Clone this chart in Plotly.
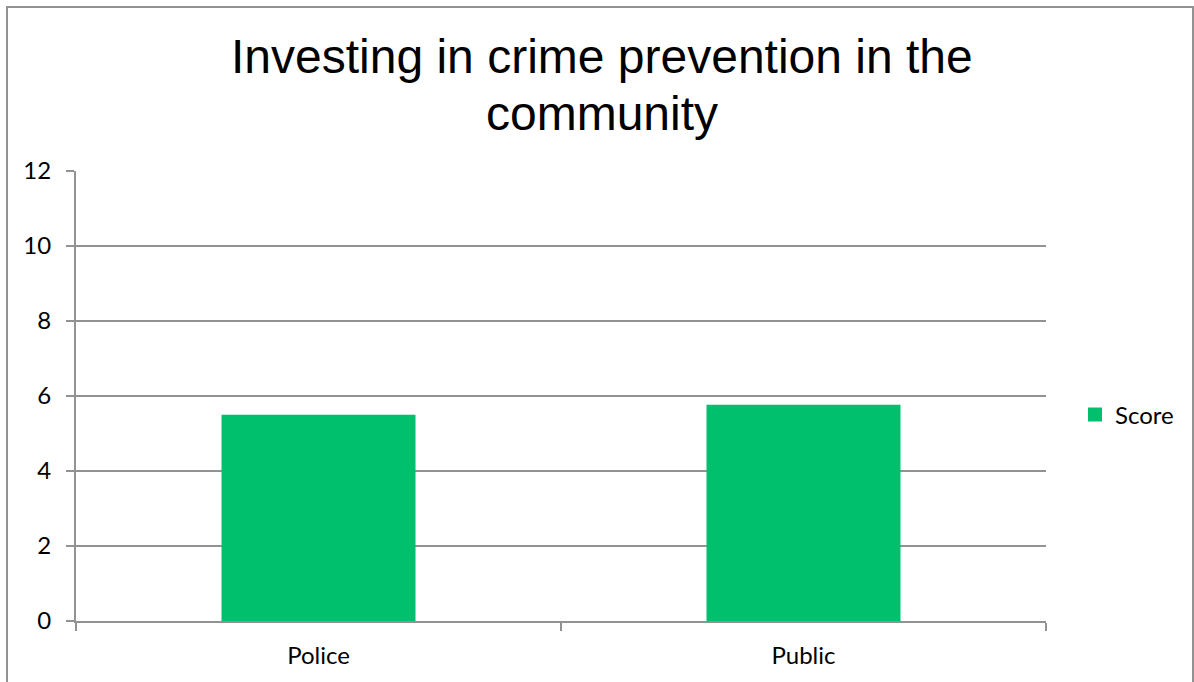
import plotly.graph_objects as go

categories = ["Police", "Public"]
scores = [5.5, 5.77]
y_ticks = [0, 2, 4, 6, 8, 10, 12]
title_lines = ["Investing in crime prevention in the", "community"]
series_name = "Score"

W, H = 1194, 682
L, R, T, B = 76, 1046, 171, 621
pw, ph = R - L, B - T
GREEN = "rgb(0,192,110)"
GRAY = "#929292"

def px_x(x):
    return (x - L) / pw

def px_y(y):
    return (B - y) / ph

fig = go.Figure()
fig.add_trace(go.Bar(
    x=categories, y=scores, name=series_name,
    marker=dict(color=GREEN, line=dict(width=0)),
    showlegend=False,
))
# legend entry with a larger square swatch
fig.add_trace(go.Scatter(
    x=[None], y=[None], mode="markers", name=series_name,
    marker=dict(symbol="square", size=14, color=GREEN),
    showlegend=True,
))

annotations = []
for line, baseline in zip(title_lines, [73, 129]):
    annotations.append(dict(
        text=line, xref="paper", yref="paper", x=px_x(602), y=px_y(baseline - 16),
        xanchor="center", yanchor="middle", showarrow=False,
        font=dict(family="Liberation Sans, Arial", size=48, color="black"),
    ))

fig.update_layout(
    width=W, height=H,
    margin=dict(l=L, r=W - R, t=T, b=H - B, autoexpand=False),
    paper_bgcolor="white", plot_bgcolor="white",
    bargap=0.6,
    annotations=annotations,
    font=dict(family="Lato", size=24, color="black"),
    showlegend=True,
    legend=dict(x=px_x(1075), y=px_y(415), xanchor="left", yanchor="middle",
                font=dict(family="Lato", size=24, color="black"),
                bgcolor="rgba(0,0,0,0)", itemwidth=30, tracegroupgap=0),
    xaxis=dict(range=[-0.5, 1.5], showline=True, linecolor=GRAY, linewidth=2,
               ticks="outside", ticklen=8, tickcolor=GRAY, tickwidth=2,
               tickson="boundaries", showgrid=False, zeroline=False,
               ticklabelstandoff=12,
               tickfont=dict(family="Lato", size=24, color="black")),
    yaxis=dict(range=[0, 12], tickvals=y_ticks, showline=True, linecolor=GRAY, linewidth=2,
               ticks="outside", ticklen=8, tickcolor=GRAY, tickwidth=2,
               showgrid=True, gridcolor=GRAY, gridwidth=2, zeroline=False,
               ticklabelstandoff=10,
               tickfont=dict(family="Lato", size=24, color="black")),
    shapes=[dict(type="rect", xref="paper", yref="paper",
                 x0=px_x(7), x1=px_x(1193), y0=px_y(700), y1=px_y(7),
                 line=dict(color=GRAY, width=2), fillcolor="rgba(0,0,0,0)", layer="below")],
)

fig.write_html("out.html", config={"displayModeBar": False},
               post_script="document.body.style.margin='0';")
